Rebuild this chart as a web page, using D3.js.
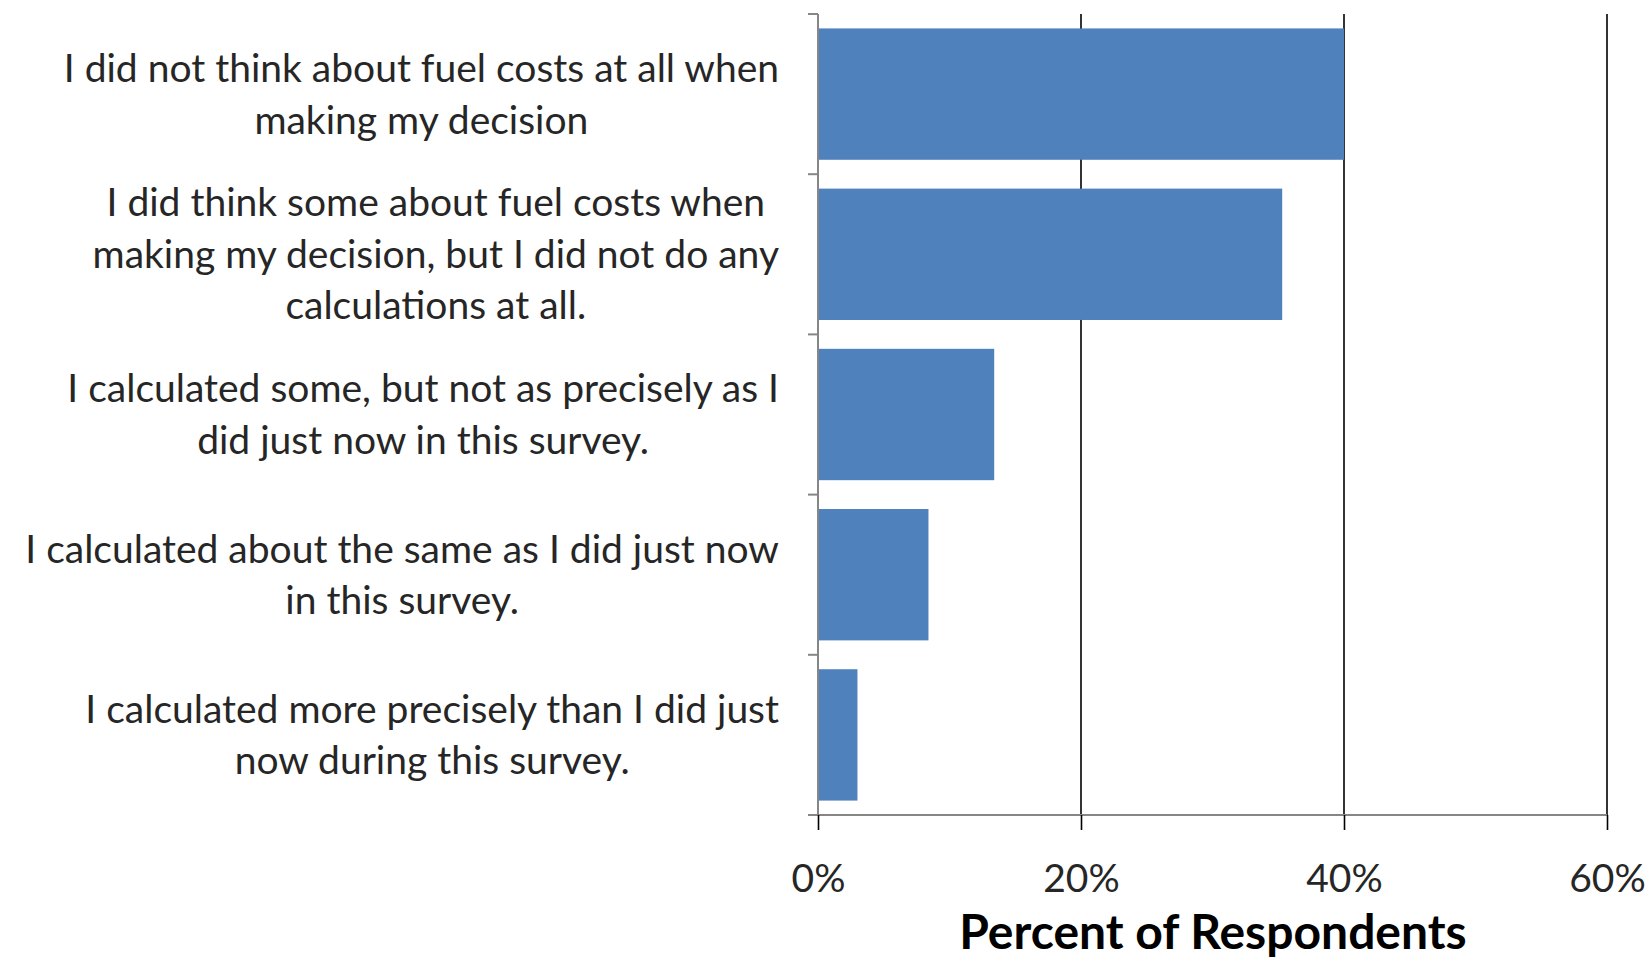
<!DOCTYPE html>
<html><head><meta charset="utf-8">
<script src="https://cdn.jsdelivr.net/npm/d3@7"></script>
<style>html,body{margin:0;padding:0;background:#fff;}svg{display:block;}</style>
</head><body>
<svg id="chart" width="1649" height="963"></svg>
<script>
const categories = [
  ["I did not think about fuel costs at all when", "making my decision"],
  ["I did think some about fuel costs when", "making my decision, but I did not do any", "calculations at all."],
  ["I calculated some, but not as precisely as I", "did just now in this survey."],
  ["I calculated about the same as I did just now", "in this survey."],
  ["I calculated more precisely than I did just", "now during this survey."]
];
const values = [40.0, 35.3, 13.4, 8.4, 3.0];
const xTicks = [0, 20, 40, 60];
const xTitle = "Percent of Respondents";

const svg = d3.select("#chart");
const m = {left: 818, right: 42, top: 14, bottom: 148};
const W = 1649, H = 963;
const x = d3.scaleLinear().domain([0, 60]).range([m.left, W - m.right]);
const y = d3.scaleBand().domain(d3.range(categories.length)).range([m.top, H - m.bottom]).paddingInner(0.18).paddingOuter(0.09);
const font = "Lato, 'Open Sans', sans-serif";

// gridlines
svg.append("g").selectAll("line").data(xTicks.filter(d => d > 0)).join("line")
  .attr("x1", d => x(d)).attr("x2", d => x(d))
  .attr("y1", m.top).attr("y2", H - m.bottom)
  .attr("stroke", "#000").attr("stroke-width", 1.6);

// bars
svg.append("g").selectAll("rect").data(values).join("rect")
  .attr("x", x(0)).attr("y", (d, i) => y(i))
  .attr("width", d => x(d) - x(0)).attr("height", y.bandwidth())
  .attr("fill", "#4F81BD");

// x axis
const xAxis = d3.axisBottom(x).tickValues(xTicks).tickSize(15).tickFormat(d => d + "%");
const gx = svg.append("g").attr("transform", `translate(0,${H - m.bottom})`).call(xAxis);
gx.select(".domain").attr("stroke", "#868686").attr("stroke-width", 2).attr("d", `M${x(0) - 10},0H${x(60)}`);
gx.selectAll(".tick line").attr("stroke", "#000").attr("stroke-width", 1.6);
gx.selectAll(".tick text").attr("font-family", font).attr("font-size", 39).attr("fill", "#262626").attr("dy", 0).attr("y", 77);

// y axis
const yb = d3.scaleLinear().domain([0, categories.length]).range([m.top, H - m.bottom]);
svg.append("line").attr("x1", x(0)).attr("x2", x(0)).attr("y1", m.top).attr("y2", H - m.bottom)
  .attr("stroke", "#868686").attr("stroke-width", 2);
svg.append("g").selectAll("line").data(d3.range(categories.length)).join("line")
  .attr("x1", x(0) - 10).attr("x2", x(0))
  .attr("y1", d => yb(d)).attr("y2", d => yb(d))
  .attr("stroke", "#868686").attr("stroke-width", 2);

// category labels: centered block, right aligned
const lineH = 51.5;
const labelRight = 779;
categories.forEach((lines, i) => {
  const g = svg.append("g");
  const cy = yb(i + 0.5);
  const texts = lines.map((t, k) => g.append("text")
    .attr("font-family", font).attr("font-size", 39).attr("fill", "#262626")
    .attr("text-anchor", "middle")
    .attr("y", cy + (k - (lines.length - 1) / 2) * lineH)
    .attr("dy", "0.35em").text(t));
  const maxW = d3.max(texts, t => t.node().getComputedTextLength());
  texts.forEach(t => t.attr("x", labelRight - maxW / 2));
});

// axis title
svg.append("text").attr("x", 1213).attr("y", 949).attr("text-anchor", "middle")
  .attr("font-family", font).attr("font-weight", "bold").attr("font-size", 48).attr("fill", "#000")
  .text(xTitle);
</script>
</body></html>
